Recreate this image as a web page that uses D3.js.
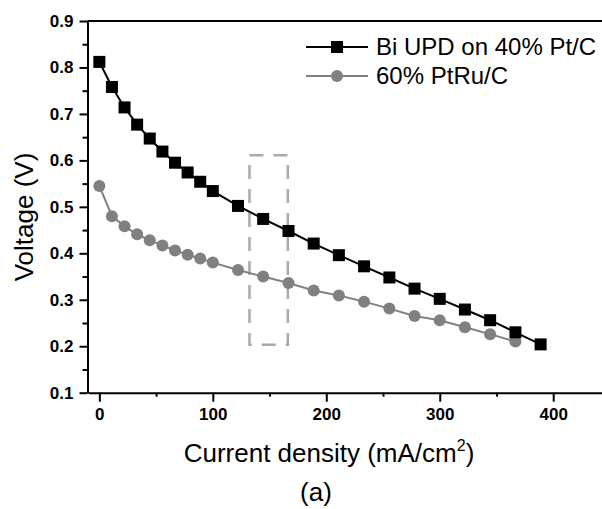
<!DOCTYPE html>
<html>
<head>
<meta charset="utf-8">
<script src="https://cdn.jsdelivr.net/npm/d3@7"></script>
<style>
    body { margin: 0; background: #fff; }
    svg { display: block; }
    .axis text { font-family: Arial, "Liberation Sans", sans-serif; font-weight: bold; font-size: 17px; fill: #000; }
</style>
</head>
<body>
<div id="chart"></div>
<script>
// Bi UPD on 40% Pt/C
let biCurrent = [0, 11.1, 22.2, 33.3, 44.4, 55.6, 66.7, 77.8, 88.9, 100, 122.2, 144.4, 166.7, 188.9, 211.1, 233.3, 255.6, 277.8, 300, 322.2, 344.4, 366.7, 388.9]
let biVoltage = [0.812, 0.758, 0.714, 0.677, 0.647, 0.619, 0.595, 0.574, 0.554, 0.534, 0.502, 0.474, 0.448, 0.421, 0.396, 0.372, 0.348, 0.324, 0.302, 0.279, 0.256, 0.230, 0.204]

// 60% PtRu/C
let ptruCurrent = [0, 11.1, 22.2, 33.3, 44.4, 55.6, 66.7, 77.8, 88.9, 100, 122.2, 144.4, 166.7, 188.9, 211.1, 233.3, 255.6, 277.8, 300, 322.2, 344.4, 366.7]
let ptruVoltage = [0.545, 0.480, 0.458, 0.441, 0.428, 0.417, 0.406, 0.397, 0.389, 0.380, 0.364, 0.350, 0.336, 0.320, 0.309, 0.296, 0.281, 0.265, 0.256, 0.241, 0.226, 0.210]

let seriesNames = ["Bi UPD on 40% Pt/C", "60% PtRu/C"]
let xTicks = [0, 100, 200, 300, 400]
let yTicks = [0.1, 0.2, 0.3, 0.4, 0.5, 0.6, 0.7, 0.8, 0.9]

// dashed highlight box (current, voltage)
let boxX = [132.3, 166.1]
let boxY = [0.203, 0.611]

let width = 602,
    height = 509;

let svg = d3.select('#chart')
    .append('svg')
    .attr("width", width)
    .attr("height", height)

let x = d3.scaleLinear().domain([-10, 443]).range([88, 602])
let y = d3.scaleLinear().domain([0.1, 0.9]).range([392.7, 21])

let font = 'Arial, "Liberation Sans", sans-serif'

// minor ticks first
svg.append("g")
    .attr("class", "axis")
    .attr("transform", "translate(87.5,0)")
    .call(d3.axisLeft(y).tickValues(d3.range(0.15, 0.9, 0.1)).tickSize(5).tickFormat(""))
    .call(g => g.select(".domain").remove())
    .selectAll("line").attr("stroke-width", 2)

svg.append("g")
    .attr("class", "axis")
    .attr("transform", "translate(0,392.7)")
    .call(d3.axisBottom(x).tickValues([50, 150, 250, 350]).tickSize(4).tickFormat(""))
    .call(g => g.select(".domain").remove())
    .selectAll("line").attr("stroke-width", 2)

// major axes
let yAxis = svg.append("g")
    .attr("class", "axis")
    .attr("transform", "translate(87.5,0)")
    .call(d3.axisLeft(y).tickValues(yTicks).tickSize(8).tickSizeOuter(0).tickPadding(6).tickFormat(d3.format(".1f")))
yAxis.select(".domain").attr("stroke-width", 2)
yAxis.selectAll(".tick line").attr("stroke-width", 2)

let xAxis = svg.append("g")
    .attr("class", "axis")
    .attr("transform", "translate(0,392.7)")
    .call(d3.axisBottom(x).tickValues(xTicks).tickSize(9).tickSizeOuter(0).tickPadding(6))
xAxis.select(".domain").attr("stroke-width", 2)
xAxis.selectAll(".tick line").attr("stroke-width", 2)

// top frame line
svg.append("line")
    .attr("x1", 87.5).attr("x2", width)
    .attr("y1", y(0.9)).attr("y2", y(0.9))
    .attr("stroke", "#000")
    .attr("stroke-width", 2)

// dashed box
svg.append("rect")
    .attr("x", x(boxX[0]))
    .attr("y", y(boxY[1]))
    .attr("width", x(boxX[1]) - x(boxX[0]))
    .attr("height", y(boxY[0]) - y(boxY[1]))
    .attr("fill", "none")
    .attr("stroke", "#aaaaaa")
    .attr("stroke-width", 2.5)
    .attr("stroke-dasharray", "14,10")

let line = d3.line()
    .x(d => x(d[0]))
    .y(d => y(d[1]))

let ptru = d3.zip(ptruCurrent, ptruVoltage)
let bi = d3.zip(biCurrent, biVoltage)

svg.append("path")
    .datum(ptru)
    .attr("d", line)
    .attr("fill", "none")
    .attr("stroke", "#808080")
    .attr("stroke-width", 2)

svg.selectAll(".ptru")
    .data(ptru)
    .enter().append("circle")
    .attr("class", "ptru")
    .attr("cx", d => x(d[0]))
    .attr("cy", d => y(d[1]))
    .attr("r", 6)
    .attr("fill", "#808080")

svg.append("path")
    .datum(bi)
    .attr("d", line)
    .attr("fill", "none")
    .attr("stroke", "#000")
    .attr("stroke-width", 2)

svg.selectAll(".bi")
    .data(bi)
    .enter().append("rect")
    .attr("class", "bi")
    .attr("x", d => x(d[0]) - 6)
    .attr("y", d => y(d[1]) - 6)
    .attr("width", 12)
    .attr("height", 12)
    .attr("fill", "#000")

// legend
let legend = svg.append("g").attr("transform", "translate(306,0)")
let legendY = [47, 76]
let legendColor = ["#000", "#808080"]

seriesNames.forEach(function (name, i) {
    let g = legend.append("g").attr("transform", "translate(0," + legendY[i] + ")")
    g.append("line")
        .attr("x1", 0).attr("x2", 62)
        .attr("stroke", legendColor[i])
        .attr("stroke-width", 2)
    if (i === 0) {
        g.append("rect").attr("x", 25).attr("y", -6).attr("width", 12).attr("height", 12).attr("fill", "#000")
    } else {
        g.append("circle").attr("cx", 31).attr("r", 6).attr("fill", "#808080")
    }
    g.append("text")
        .attr("x", 70)
        .attr("y", 8)
        .attr("font-family", font)
        .attr("font-size", 24)
        .text(name)
})

// axis titles
svg.append("text")
    .attr("transform", "translate(33,217) rotate(-90)")
    .attr("text-anchor", "middle")
    .attr("font-family", font)
    .attr("font-size", 26)
    .text("Voltage (V)")

let xt = svg.append("text")
    .attr("x", 329)
    .attr("y", 462)
    .attr("text-anchor", "middle")
    .attr("font-family", font)
    .attr("font-size", 26)
xt.append("tspan").text("Current density (mA/cm")
xt.append("tspan").attr("font-size", 16).attr("dy", -11).text("2")
xt.append("tspan").attr("dy", 11).text(")")

svg.append("text")
    .attr("x", 316)
    .attr("y", 501)
    .attr("text-anchor", "middle")
    .attr("font-family", font)
    .attr("font-size", 26)
    .text("(a)")
</script>
</body>
</html>
